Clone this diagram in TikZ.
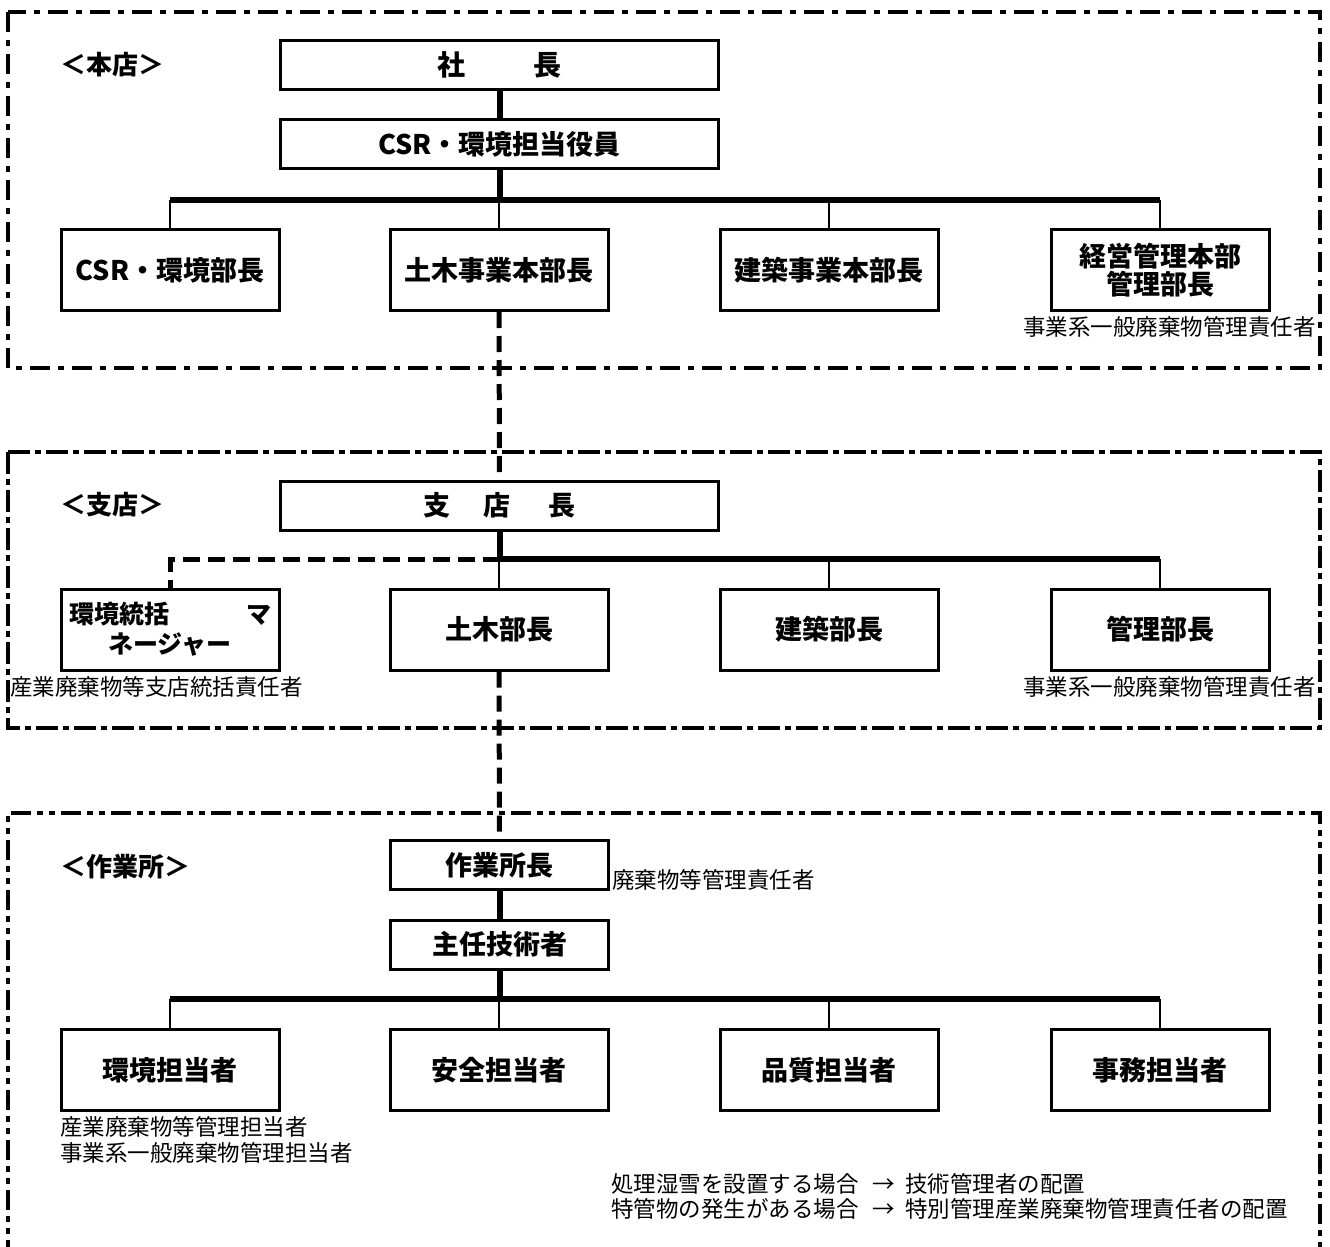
\documentclass[tikz,border=0pt]{standalone}
\usepackage{fontspec}
\setmainfont{Noto Sans CJK JP}
\begin{document}
\begin{tikzpicture}[x=1pt,y=-1pt,
  box/.style={draw,line width=3pt,inner sep=0pt,font=\bfseries\fontsize{27}{28}\selectfont,align=center},
  rowbox/.style={box,minimum width=218pt,minimum height=81pt},
  topbox/.style={box,minimum width=438pt,minimum height=49pt},
  sitebox/.style={box,minimum width=218pt,minimum height=49pt},
  bus/.style={line width=6pt},
  twig/.style={line width=2pt},
  dashlink/.style={line width=5pt,dash pattern=on 16pt off 8pt},
  lbl/.style={inner sep=0pt,font=\fontsize{22.5}{26}\selectfont},
  sect/.style={inner sep=0pt,anchor=west,font=\bfseries\fontsize{26}{28}\selectfont},
  dashdot/.style={line width=4pt,dash pattern=on 20pt off 8pt on 6pt off 8pt},
  dashslant/.style={line width=4pt,dash pattern=on 22pt off 5pt on 6pt off 5pt},
  dashdotdot/.style={line width=4pt,dash pattern=on 20pt off 6pt on 6pt off 6pt on 6pt off 6pt},
]
\useasboundingbox (0,0) rectangle (1330,1247);
\begin{scope}
\clip (0,0) rectangle (1330,1247);
% section frames
\draw[dashdot] (8,12) rectangle (1320,368);
\draw[dashslant] (8,452) rectangle (1320,728);
\draw[dashdotdot] (8,1260) -- (8,813) -- (1320,813) -- (1320,1260);
\end{scope}

% section titles
\node[sect] (t1) at (60,65) {＜本店＞};
\node[sect] (t2) at (60,505) {＜支店＞};
\node[sect] (t3) at (60,867) {＜作業所＞};

% head office
\node[topbox,font=\bfseries\fontsize{28}{30}\selectfont] (pres) at (499.5,65) {社\hspace{68pt}長};
\node[topbox] (csr) at (499.5,144) {CSR・環境担当役員};
\node[rowbox] (d1) at (170,270) {CSR・環境部長};
\node[rowbox] (d2) at (499,270) {土木事業本部長};
\node[rowbox] (d3) at (829,270) {建築事業本部長};
\node[rowbox] (d4) at (1160,270) {経営管理本部\\管理部長};
\node[lbl,anchor=east] (l1) at (1316,327) {事業系一般廃棄物管理責任者};

\coordinate (j1) at (499.5,200);
\draw[bus] (pres.south) -- (csr.north);
\draw[bus] (csr.south) -- (j1);
\draw[bus] (j1 -| d1.north) -- (j1 -| d4.north);
\foreach \n in {d1,d2,d3,d4} \draw[twig] (j1 -| \n.north) -- (\n.north);

% branch
\node[topbox,font=\bfseries\fontsize{27}{29}\selectfont] (br) at (499.5,505.5) {支\hspace{33pt}店\hspace{38pt}長};
\node[rowbox,font=\bfseries\fontsize{25}{30}\selectfont] (m1) at (170,629.5) {\makebox[202pt]{環境統括\hfill マ}\\ネージャー};
\node[rowbox] (m2) at (499,629.5) {土木部長};
\node[rowbox] (m3) at (829,629.5) {建築部長};
\node[rowbox] (m4) at (1160,629.5) {管理部長};
\node[lbl,anchor=west] (l2) at (10,687) {産業廃棄物等支店統括責任者};
\node[lbl,anchor=east] (l3) at (1316,687) {事業系一般廃棄物管理責任者};

\draw[dashlink] (d2.south) -- (br.north);
\coordinate (j2) at (499.5,559);
\draw[bus] (br.south) -- (j2);
\draw[bus] (j2) -- (j2 -| m4.north);
\draw[line width=5pt,dash pattern=on 17pt off 8pt] (j2) -- (j2 -| m1.north) -- (m1.north);
\foreach \n in {m2,m3,m4} \draw[twig] (j2 -| \n.north) -- (\n.north);

% site
\node[sitebox] (site) at (499.5,865) {作業所長};
\node[sitebox] (chief) at (499.5,944.5) {主任技術者};
\node[rowbox] (s1) at (170,1070) {環境担当者};
\node[rowbox] (s2) at (499,1070) {安全担当者};
\node[rowbox] (s3) at (829,1070) {品質担当者};
\node[rowbox] (s4) at (1160,1070) {事務担当者};
\node[lbl,anchor=west] (l4) at (612,880) {廃棄物等管理責任者};
\node[lbl,anchor=west] (l5) at (60,1127) {産業廃棄物等管理担当者};
\node[lbl,anchor=west] (l6) at (60,1153) {事業系一般廃棄物管理担当者};
\node[lbl,anchor=west] (n1) at (611,1184) {処理湿雪を設置する場合\hspace{14pt}→\hspace{10pt}技術管理者の配置};
\node[lbl,anchor=west] (n2) at (611,1209) {特管物の発生がある場合\hspace{14pt}→\hspace{10pt}特別管理産業廃棄物管理責任者の配置};

\draw[dashlink] (m2.south) -- (site.north);
\coordinate (j3) at (499.5,999);
\draw[bus] (site.south) -- (chief.north);
\draw[bus] (chief.south) -- (j3);
\draw[bus] (j3 -| s1.north) -- (j3 -| s4.north);
\foreach \n in {s1,s2,s3,s4} \draw[twig] (j3 -| \n.north) -- (\n.north);
\end{tikzpicture}
\end{document}
